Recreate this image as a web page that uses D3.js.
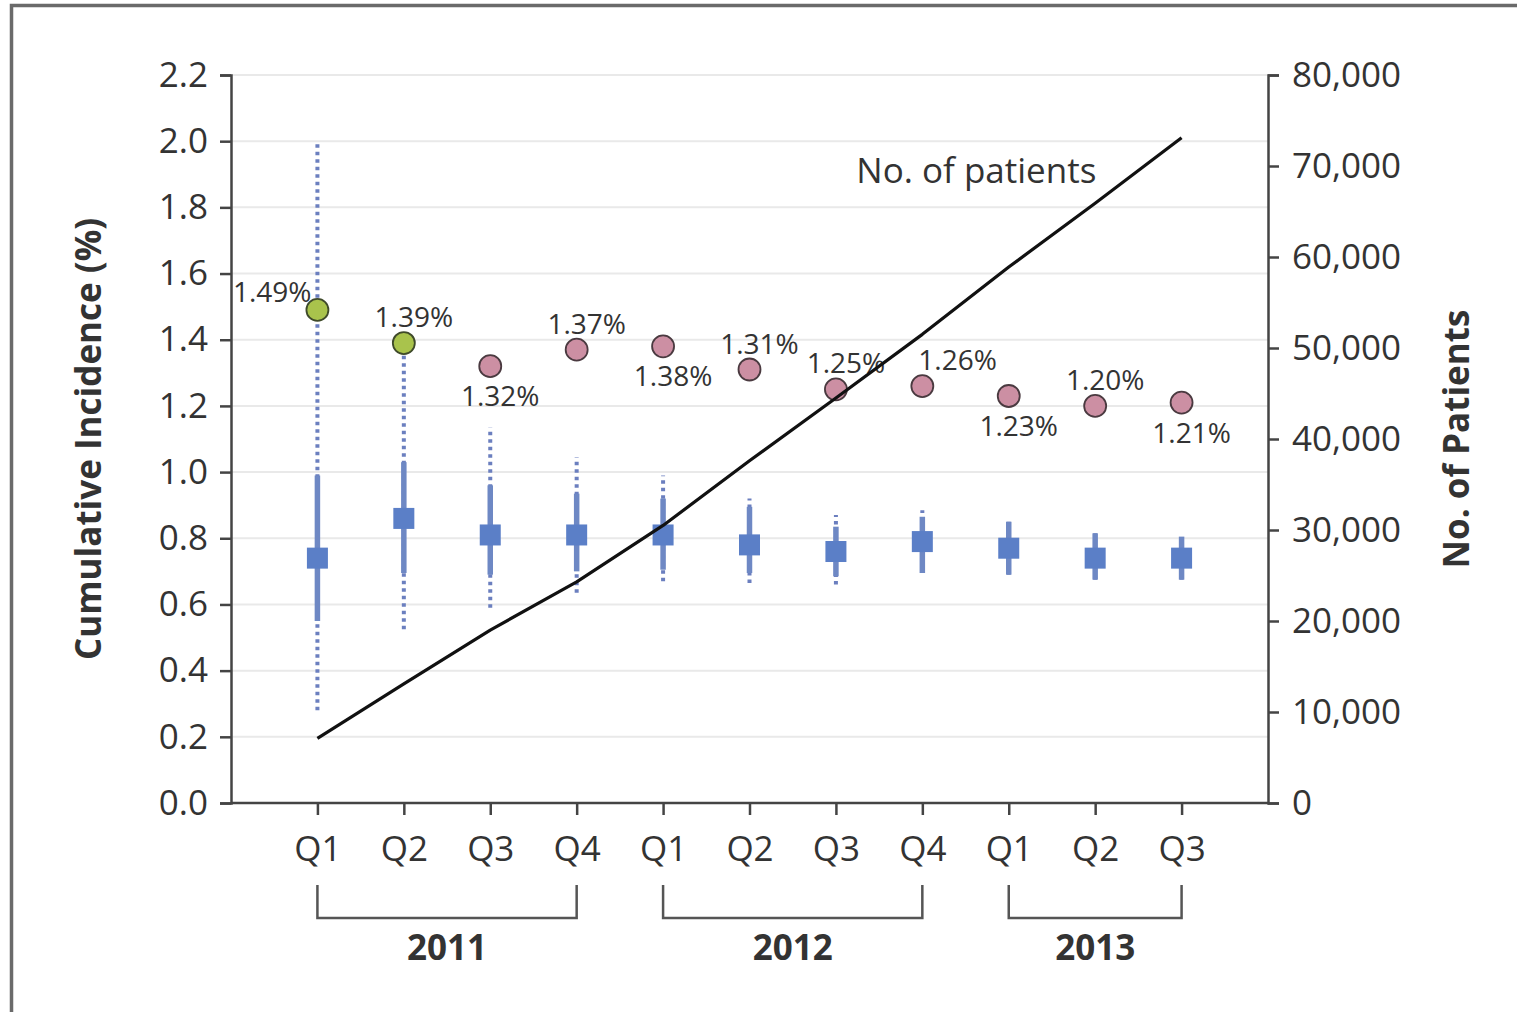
<!DOCTYPE html>
<html>
<head>
<meta charset="utf-8">
<script src="https://cdn.jsdelivr.net/npm/d3@7"></script>
<style>
  body { margin: 0; background: #fff; }
  text { font-family: "Open Sans", sans-serif; fill: #333; }
</style>
</head>
<body>
<svg id="chart" width="1520" height="1012"></svg>
<script>
// quarters on the x axis, and the year each group belongs to
var quarters = ["Q1","Q2","Q3","Q4","Q1","Q2","Q3","Q4","Q1","Q2","Q3"];
var years = ["2011","2012","2013"];
var yearStart = [0, 4, 8];
var yearEnd = [3, 7, 10];

// cumulative incidence (%) shown as circles, with its label
var incidence = [1.49, 1.39, 1.32, 1.37, 1.38, 1.31, 1.25, 1.26, 1.23, 1.20, 1.21];
var incidenceLabel = ["1.49%","1.39%","1.32%","1.37%","1.38%","1.31%","1.25%","1.26%","1.23%","1.20%","1.21%"];
var labelSide = ["left","above","below","above","below","above","above","right","below","above","below"];
var earlyPeriod = [true, true, false, false, false, false, false, false, false, false, false];

// quarterly estimate (squares) with inner (solid) and outer (dotted) intervals
var estimate = [0.74, 0.86, 0.81, 0.81, 0.81, 0.78, 0.76, 0.79, 0.77, 0.74, 0.74];
var innerLow = [0.55, 0.695, 0.69, 0.70, 0.705, 0.695, 0.685, 0.695, 0.69, 0.675, 0.675];
var innerHigh = [0.99, 1.03, 0.96, 0.935, 0.92, 0.895, 0.835, 0.865, 0.85, 0.815, 0.805];
var outerLow = [0.28, 0.525, 0.59, 0.635, 0.67, 0.665, 0.66, 0.695, 0.69, 0.675, 0.675];
var outerHigh = [2.0, 1.37, 1.135, 1.045, 0.99, 0.92, 0.87, 0.885, 0.85, 0.815, 0.805];

// cumulative number of patients (right axis)
var patients = [7100, 13100, 19000, 24300, 30500, 37600, 44500, 51500, 58900, 65900, 73100];

var leftTicks = [0, 0.2, 0.4, 0.6, 0.8, 1.0, 1.2, 1.4, 1.6, 1.8, 2.0, 2.2];
var rightTicks = [0, 10000, 20000, 30000, 40000, 50000, 60000, 70000, 80000];

var svg = d3.select("#chart"),
    margin = {top: 75, right: 252, bottom: 209, left: 231},
    width = +svg.attr("width") - margin.left - margin.right,
    height = +svg.attr("height") - margin.top - margin.bottom;

// frame of the figure
svg.append("path")
    .attr("d", "M11.5,1012 V5.5 H1517")
    .attr("fill", "none")
    .attr("stroke", "#6a6a6a")
    .attr("stroke-width", 3.5);

var g = svg.append("g").attr("transform", "translate(" + margin.left + "," + margin.top + ")");

var idx = d3.range(quarters.length);

var x = d3.scalePoint()
    .domain(idx)
    .range([0, width])
    .padding(1);

var y = d3.scaleLinear()
    .domain([0, 2.2])
    .range([height, 0]);

var y2 = d3.scaleLinear()
    .domain([0, 80000])
    .range([height, 0]);

// grid
g.append("g")
  .selectAll("line")
  .data(leftTicks.slice(1))
  .enter().append("line")
    .attr("x1", 0)
    .attr("x2", width)
    .attr("y1", function(d) { return y(d); })
    .attr("y2", function(d) { return y(d); })
    .attr("stroke", "#e9e9e9")
    .attr("stroke-width", 2);

// axes
var yAxis = d3.axisLeft(y).tickValues(leftTicks).tickFormat(d3.format(".1f")).tickSize(11).tickPadding(12);
var yAxis2 = d3.axisRight(y2).tickValues(rightTicks).tickFormat(d3.format(",")).tickSize(11).tickPadding(13);
var xAxis = d3.axisBottom(x).tickFormat(function(i) { return quarters[i]; }).tickSize(12).tickPadding(21);

function styleAxis(a) {
  a.select(".domain").attr("stroke", "#444").attr("stroke-width", 2.5);
  a.selectAll(".tick line").attr("stroke", "#444").attr("stroke-width", 2.5);
  a.selectAll(".tick text").attr("font-size", 35).attr("fill", "#333")
    .attr("font-family", "'Open Sans', sans-serif");
}

g.append("g").call(yAxis).call(styleAxis);
g.append("g").attr("transform", "translate(" + width + ",0)").call(yAxis2).call(styleAxis);
g.append("g").attr("transform", "translate(0," + height + ")").call(xAxis).call(styleAxis)
  .call(function(a) { a.select(".domain").attr("d", "M0,0H" + width); });

// axis titles
g.append("text")
    .attr("transform", "translate(" + (-130) + "," + (height / 2) + ") rotate(-90)")
    .attr("text-anchor", "middle")
    .attr("font-size", 35)
    .attr("font-weight", "bold")
    .text("Cumulative Incidence (%)");

g.append("text")
    .attr("transform", "translate(" + (width + 201) + "," + (height / 2) + ") rotate(-90)")
    .attr("text-anchor", "middle")
    .attr("font-size", 35)
    .attr("font-weight", "bold")
    .text("No. of Patients");

// year brackets
var brackets = g.append("g").attr("transform", "translate(0," + height + ")");
years.forEach(function(yr, k) {
  var x0 = x(yearStart[k]), x1 = x(yearEnd[k]);
  brackets.append("path")
      .attr("d", "M" + x0 + ",82V115H" + x1 + "V82")
      .attr("fill", "none")
      .attr("stroke", "#555")
      .attr("stroke-width", 2.5);
  brackets.append("text")
      .attr("x", (x0 + x1) / 2)
      .attr("y", 157)
      .attr("text-anchor", "middle")
      .attr("font-size", 35)
      .attr("font-weight", "bold")
      .text(yr);
});

// outer intervals (dotted)
g.append("g")
  .selectAll("line")
  .data(idx)
  .enter().append("line")
    .attr("x1", function(i) { return x(i); })
    .attr("x2", function(i) { return x(i); })
    .attr("y1", function(i) { return y(outerLow[i]); })
    .attr("y2", function(i) { return y(outerHigh[i]); })
    .attr("stroke", "#6b7fbf")
    .attr("stroke-width", 4)
    .attr("stroke-dasharray", "3.5,4");

// inner intervals (solid)
g.append("g")
  .selectAll("line")
  .data(idx)
  .enter().append("line")
    .attr("x1", function(i) { return x(i); })
    .attr("x2", function(i) { return x(i); })
    .attr("y1", function(i) { return y(innerLow[i]); })
    .attr("y2", function(i) { return y(innerHigh[i]); })
    .attr("stroke", "#6e88c4")
    .attr("stroke-width", 5.5);

// squares
g.append("g")
  .selectAll("rect")
  .data(idx)
  .enter().append("rect")
    .attr("x", function(i) { return x(i) - 10.5; })
    .attr("y", function(i) { return y(estimate[i]) - 10.5; })
    .attr("width", 21)
    .attr("height", 21)
    .attr("fill", "#5b7fc7");

// incidence circles
g.append("g")
  .selectAll("circle")
  .data(idx)
  .enter().append("circle")
    .attr("cx", function(i) { return x(i); })
    .attr("cy", function(i) { return y(incidence[i]); })
    .attr("r", 11)
    .attr("fill", function(i) { return earlyPeriod[i] ? "#a9c34c" : "#cc8fa3"; })
    .attr("stroke", function(i) { return earlyPeriod[i] ? "#3f4a2a" : "#4a3a40"; })
    .attr("stroke-width", 1.8);

// incidence labels
g.append("g")
  .selectAll("text")
  .data(idx)
  .enter().append("text")
    .attr("x", function(i) {
      var s = labelSide[i];
      if (s === "left") return x(i) - 6;
      if (s === "right") return x(i) - 4;
      return x(i) + 10;
    })
    .attr("y", function(i) {
      var s = labelSide[i];
      if (s === "below") return y(incidence[i]) + 40;
      if (s === "left") return y(incidence[i]) - 8;
      return y(incidence[i]) - 16;
    })
    .attr("text-anchor", function(i) {
      var s = labelSide[i];
      return s === "left" ? "end" : (s === "right" ? "start" : "middle");
    })
    .attr("font-size", 28)
    .text(function(i) { return incidenceLabel[i]; });

// patients line
var line = d3.line()
    .x(function(i) { return x(i); })
    .y(function(i) { return y2(patients[i]); });

g.append("path")
    .datum(idx)
    .attr("fill", "none")
    .attr("stroke", "#111")
    .attr("stroke-width", 3.2)
    .attr("stroke-linejoin", "round")
    .attr("d", line);

g.append("text")
    .attr("x", x(7) - 66)
    .attr("y", y2(70000) + 17)
    .attr("font-size", 35)
    .text("No. of patients");
</script>
</body>
</html>
